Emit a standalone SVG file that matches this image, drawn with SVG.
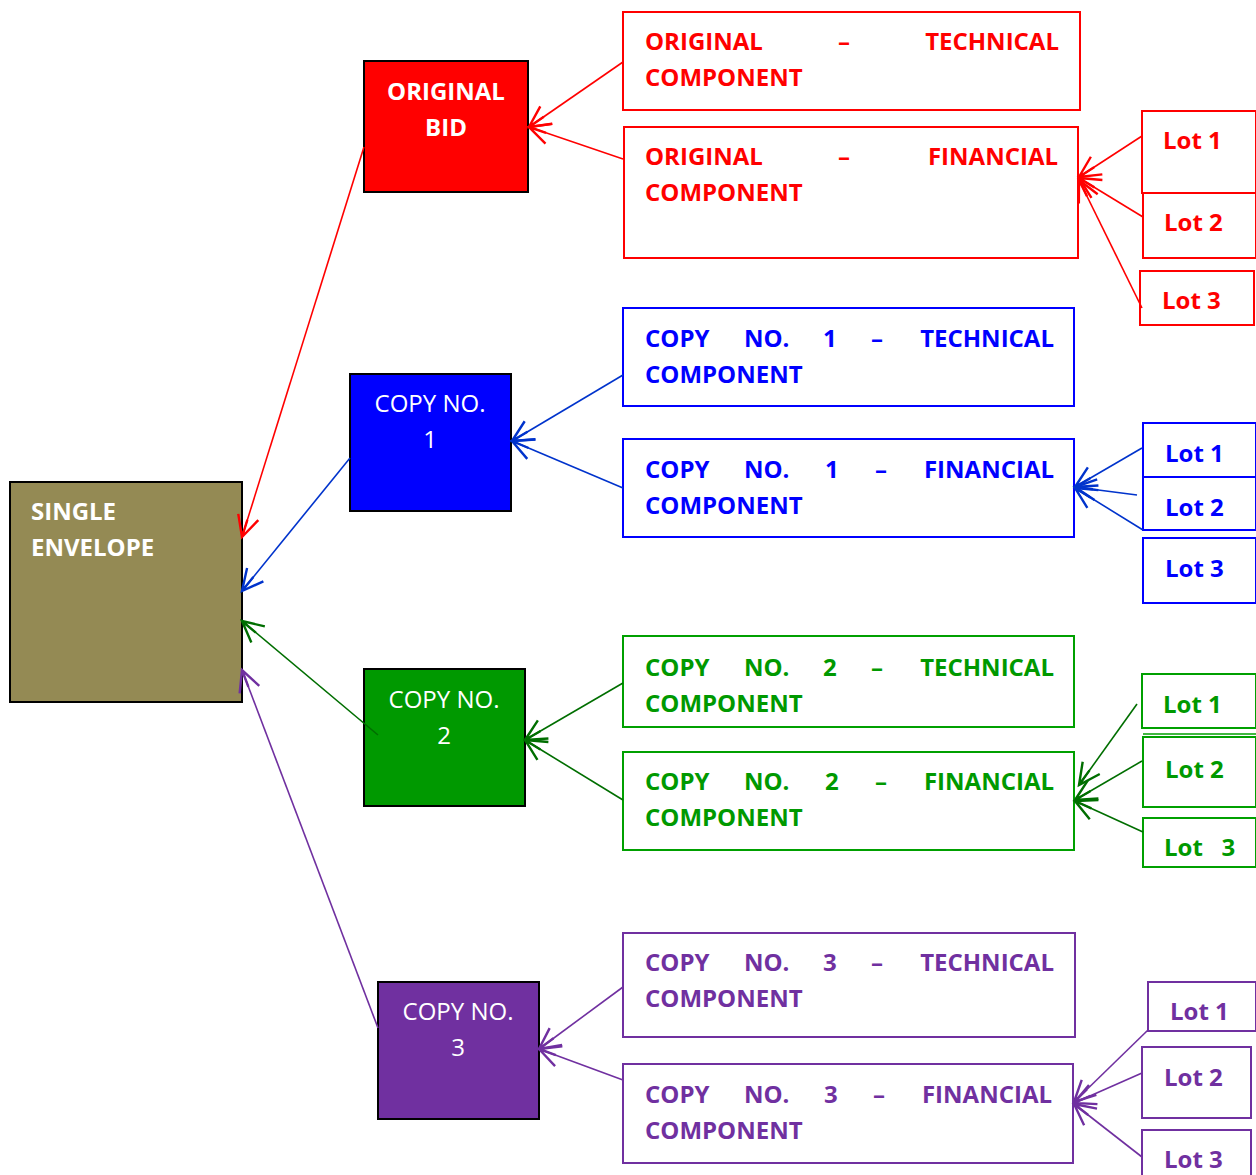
<svg xmlns="http://www.w3.org/2000/svg" width="1256" height="1175" viewBox="0 0 1256 1175">
<style>
text{font-family:"Open Sans","Liberation Sans",sans-serif;font-size:24px}
.b{font-weight:bold}
.w{fill:#fff}
.r{fill:#ff0000}.bl{fill:#0000ff}.g{fill:#009900}.p{fill:#7030a0}
.node{stroke:#000;stroke-width:2}
.box{fill:#fff;stroke-width:2}
.rs{stroke:#ff0000}.bs{stroke:#0000ff}.gs{stroke:#00a000}.ps{stroke:#7030a0}
.c{fill:none;stroke-width:1.6}
</style>
<defs>
<marker id="mr" markerUnits="userSpaceOnUse" markerWidth="30" markerHeight="30" refX="0" refY="0" viewBox="-16 -10 20 20" orient="auto"><path d="M-14,-7 L0,0 L-14,7 M0,0 L-12,0" fill="none" stroke="#ff0000" stroke-width="1.6"/></marker>
<marker id="mb" markerUnits="userSpaceOnUse" markerWidth="30" markerHeight="30" refX="0" refY="0" viewBox="-16 -10 20 20" orient="auto"><path d="M-14,-7 L0,0 L-14,7 M0,0 L-12,0" fill="none" stroke="#0033cc" stroke-width="1.6"/></marker>
<marker id="mg" markerUnits="userSpaceOnUse" markerWidth="30" markerHeight="30" refX="0" refY="0" viewBox="-16 -10 20 20" orient="auto"><path d="M-14,-7 L0,0 L-14,7 M0,0 L-12,0" fill="none" stroke="#006e00" stroke-width="1.6"/></marker>
<marker id="mp" markerUnits="userSpaceOnUse" markerWidth="30" markerHeight="30" refX="0" refY="0" viewBox="-16 -10 20 20" orient="auto"><path d="M-14,-7 L0,0 L-14,7 M0,0 L-12,0" fill="none" stroke="#7030a0" stroke-width="1.6"/></marker>
</defs>
<rect width="1256" height="1175" fill="#fff"/>

<g id="single-envelope">
<rect class="node" x="10" y="482" width="232" height="220" fill="#948a54"/>
<text class="b w" x="31" y="520">SINGLE</text>
<text class="b w" x="31" y="556">ENVELOPE</text>
</g>

<g id="original-bid">
<rect class="node" x="364" y="61" width="164" height="131" fill="#ff0000"/>
<text class="b w" x="446" y="100" text-anchor="middle">ORIGINAL</text>
<text class="b w" x="446" y="136" text-anchor="middle">BID</text>
</g>
<g id="copy-1">
<rect class="node" x="350" y="374" width="161" height="137" fill="#0000ff"/>
<text class="w" x="430" y="412" text-anchor="middle">COPY NO.</text>
<text class="w" x="430" y="448" text-anchor="middle">1</text>
</g>
<g id="copy-2">
<rect class="node" x="364" y="669" width="161" height="137" fill="#009900"/>
<text class="w" x="444" y="708" text-anchor="middle">COPY NO.</text>
<text class="w" x="444" y="744" text-anchor="middle">2</text>
</g>
<g id="copy-3">
<rect class="node" x="378" y="982" width="161" height="137" fill="#7030a0"/>
<text class="w" x="458" y="1020" text-anchor="middle">COPY NO.</text>
<text class="w" x="458" y="1056" text-anchor="middle">3</text>
</g>

<g id="original-technical">
<rect class="box rs" x="623" y="12" width="457" height="98"/>
<text class="b r" x="645" y="50">ORIGINAL</text><text class="b r" x="838" y="50">–</text><text class="b r" x="1059" y="50" text-anchor="end">TECHNICAL</text>
<text class="b r" x="645" y="86">COMPONENT</text>
</g>
<g id="original-financial">
<rect class="box rs" x="624" y="127" width="454" height="131"/>
<text class="b r" x="645" y="165">ORIGINAL</text><text class="b r" x="838" y="165">–</text><text class="b r" x="1058" y="165" text-anchor="end">FINANCIAL</text>
<text class="b r" x="645" y="201">COMPONENT</text>
</g>
<g id="copy1-technical">
<rect class="box bs" x="623" y="308" width="451" height="98"/>
<text class="b bl" x="645" y="347">COPY</text><text class="b bl" x="744" y="347">NO.</text><text class="b bl" x="823" y="347">1</text><text class="b bl" x="871" y="347">–</text><text class="b bl" x="1054" y="347" text-anchor="end">TECHNICAL</text>
<text class="b bl" x="645" y="383">COMPONENT</text>
</g>
<g id="copy1-financial">
<rect class="box bs" x="623" y="439" width="451" height="98"/>
<text class="b bl" x="645" y="478">COPY</text><text class="b bl" x="744" y="478">NO.</text><text class="b bl" x="825" y="478">1</text><text class="b bl" x="875" y="478">–</text><text class="b bl" x="1054" y="478" text-anchor="end">FINANCIAL</text>
<text class="b bl" x="645" y="514">COMPONENT</text>
</g>
<g id="copy2-technical">
<rect class="box gs" x="623" y="636" width="451" height="91"/>
<text class="b g" x="645" y="676">COPY</text><text class="b g" x="744" y="676">NO.</text><text class="b g" x="823" y="676">2</text><text class="b g" x="871" y="676">–</text><text class="b g" x="1054" y="676" text-anchor="end">TECHNICAL</text>
<text class="b g" x="645" y="712">COMPONENT</text>
</g>
<g id="copy2-financial">
<rect class="box gs" x="623" y="752" width="451" height="98"/>
<text class="b g" x="645" y="790">COPY</text><text class="b g" x="744" y="790">NO.</text><text class="b g" x="825" y="790">2</text><text class="b g" x="875" y="790">–</text><text class="b g" x="1054" y="790" text-anchor="end">FINANCIAL</text>
<text class="b g" x="645" y="826">COMPONENT</text>
</g>
<g id="copy3-technical">
<rect class="box ps" x="623" y="933" width="452" height="104"/>
<text class="b p" x="645" y="971">COPY</text><text class="b p" x="744" y="971">NO.</text><text class="b p" x="823" y="971">3</text><text class="b p" x="871" y="971">–</text><text class="b p" x="1054" y="971" text-anchor="end">TECHNICAL</text>
<text class="b p" x="645" y="1007">COMPONENT</text>
</g>
<g id="copy3-financial">
<rect class="box ps" x="623" y="1064" width="450" height="99"/>
<text class="b p" x="645" y="1103">COPY</text><text class="b p" x="744" y="1103">NO.</text><text class="b p" x="824" y="1103">3</text><text class="b p" x="873" y="1103">–</text><text class="b p" x="1052" y="1103" text-anchor="end">FINANCIAL</text>
<text class="b p" x="645" y="1139">COMPONENT</text>
</g>

<g id="red-lot-1"><rect class="box rs" x="1142" y="111" width="114" height="82"/><text class="b r" x="1163" y="149">Lot 1</text></g>
<g id="red-lot-2"><rect class="box rs" x="1143" y="193" width="113" height="65"/><text class="b r" x="1164" y="231">Lot 2</text></g>
<g id="red-lot-3"><rect class="box rs" x="1140" y="271" width="114" height="54"/><text class="b r" x="1162" y="309">Lot 3</text></g>

<g id="blue-lot-1"><rect class="box bs" x="1143" y="423" width="113" height="54"/><text class="b bl" x="1165" y="462">Lot 1</text></g>
<g id="blue-lot-2"><rect class="box bs" x="1143" y="477" width="113" height="53"/><text class="b bl" x="1165" y="516">Lot 2</text></g>
<g id="blue-lot-3"><rect class="box bs" x="1143" y="538" width="113" height="65"/><text class="b bl" x="1165" y="577">Lot 3</text></g>

<g id="green-lot-1"><rect class="box gs" x="1142" y="674" width="114" height="54"/><text class="b g" x="1163" y="713">Lot 1</text></g>
<g id="green-lot-2"><rect class="box gs" x="1143" y="737" width="113" height="70"/><line x1="1143" y1="734" x2="1256" y2="734" stroke="#00a000" stroke-width="1.5"/><text class="b g" x="1165" y="778">Lot 2</text></g>
<g id="green-lot-3"><rect class="box gs" x="1143" y="818" width="113" height="49"/><text class="b g" x="1164" y="856" xml:space="preserve">Lot   3</text></g>

<g id="purple-lot-1"><rect class="box ps" x="1148" y="982" width="108" height="49"/><text class="b p" x="1170" y="1020">Lot 1</text></g>
<g id="purple-lot-2"><rect class="box ps" x="1142" y="1047" width="109" height="71"/><text class="b p" x="1164" y="1086">Lot 2</text></g>
<g id="purple-lot-3"><rect class="box ps" x="1142" y="1130" width="109" height="50"/><text class="b p" x="1164" y="1168">Lot 3</text></g>

<g id="connectors" class="c">
<g stroke="#ff0000" marker-end="url(#mr)">
<line x1="623" y1="62" x2="529" y2="127"/>
<line x1="623" y1="159" x2="529" y2="127"/>
<line x1="364" y1="147" x2="242" y2="537"/>
<line x1="1142" y1="136" x2="1079" y2="177"/>
<line x1="1143" y1="217" x2="1079" y2="178"/>
<line x1="1142" y1="308" x2="1079" y2="180"/>
</g>
<g stroke="#0033cc" marker-end="url(#mb)">
<line x1="623" y1="375" x2="512" y2="441"/>
<line x1="623" y1="488" x2="512" y2="441"/>
<line x1="350" y1="458" x2="242" y2="591"/>
<line x1="1142" y1="448" x2="1075" y2="487"/>
<line x1="1137" y1="495" x2="1075" y2="487"/>
<line x1="1143" y1="530" x2="1075" y2="488"/>
</g>
<g stroke="#006e00" marker-end="url(#mg)">
<line x1="623" y1="683" x2="525" y2="740"/>
<line x1="623" y1="800" x2="525" y2="740"/>
<line x1="378" y1="735" x2="242" y2="621"/>
<line x1="1137" y1="704" x2="1079" y2="785"/>
<line x1="1142" y1="761" x2="1075" y2="800"/>
<line x1="1143" y1="832" x2="1075" y2="801"/>
</g>
<g stroke="#7030a0" marker-end="url(#mp)">
<line x1="623" y1="987" x2="539" y2="1049"/>
<line x1="623" y1="1080" x2="539" y2="1049"/>
<line x1="378" y1="1028" x2="242" y2="670"/>
<line x1="1148" y1="1030" x2="1074" y2="1102"/>
<line x1="1142" y1="1073" x2="1074" y2="1103"/>
<line x1="1142" y1="1157" x2="1074" y2="1104"/>
</g>
</g>
</svg>
